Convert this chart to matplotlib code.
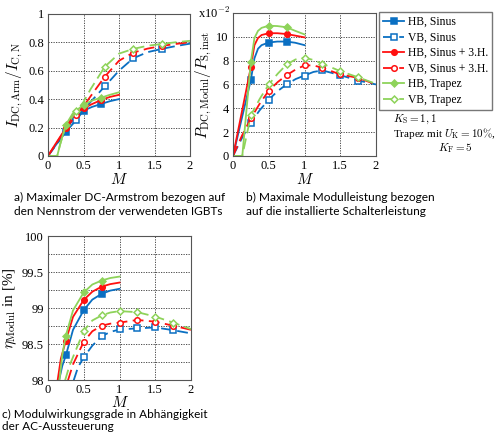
# Recreate: three panels (DC-Armstrom, Modulleistung, Wirkungsgrad) over M
import numpy as np
import matplotlib
matplotlib.use("Agg")
import matplotlib.pyplot as plt
from matplotlib.ticker import MultipleLocator

plt.rcParams['font.family'] = ['Liberation Serif', 'DejaVu Serif']
plt.rcParams['mathtext.fontset'] = 'cm'

labels = ['HB, Sinus', 'VB, Sinus', 'HB, Sinus + 3.H.', 'VB, Sinus + 3.H.',
          'HB, Trapez', 'VB, Trapez']

# --- panel a: I_DC,Arm / I_C,N ---
m_a_hb = [0, 0.1, 0.25, 0.35, 0.5, 0.62, 0.75, 0.87, 1.0]
a_hb_sinus = [0, 0.07, 0.171, 0.26, 0.319, 0.345, 0.366, 0.385, 0.40]
a_hb_3h = [0, 0.08, 0.195, 0.285, 0.335, 0.365, 0.394, 0.415, 0.43]
m_a_hb_tr = [0, 0.13, 0.17, 0.25, 0.35, 0.5, 0.62, 0.75, 0.87, 1.0]
a_hb_trapez = [0, 0, 0.08, 0.218, 0.30, 0.36, 0.39, 0.41, 0.43, 0.448]
m_a_vb = [0, 0.25, 0.4, 0.5, 0.6, 0.8, 1.0, 1.2, 1.4, 1.6, 1.8, 2.0]
a_vb_sinus = [0, 0.17, 0.253, 0.32, 0.38, 0.49, 0.60, 0.687, 0.73, 0.753, 0.773, 0.79]
a_vb_3h = [0, 0.19, 0.29, 0.35, 0.42, 0.558, 0.67, 0.727, 0.755, 0.774, 0.788, 0.80]
m_a_vb_tr = [0, 0.13, 0.17, 0.25, 0.4, 0.5, 0.6, 0.8, 1.0, 1.2, 1.4, 1.6, 1.8, 2.0]
a_vb_trapez = [0, 0, 0.08, 0.21, 0.316, 0.38, 0.47, 0.628, 0.72, 0.753, 0.775, 0.788, 0.80, 0.81]
mk_a_hb = [0.25, 0.5, 0.75]
mk_a_vb = [0.4, 0.8, 1.2, 1.6]

# --- panel b: P_DC,Modul / P_S,inst  (x 1e-2) ---
m_b_hb = [0, 0.25, 0.3, 0.35, 0.4, 0.5, 0.62, 0.75, 0.87, 1.0]
b_hb_sinus = [0, 6.4, 8.2, 9.0, 9.3, 9.52, 9.6, 9.6, 9.5, 9.3]
b_hb_3h = [0, 7.46, 9.3, 9.9, 10.15, 10.3, 10.3, 10.23, 10.1, 9.95]
m_b_hb_tr = [0, 0.13, 0.25, 0.3, 0.35, 0.4, 0.5, 0.62, 0.75, 0.87, 1.0]
b_hb_trapez = [0, 0, 7.9, 9.9, 10.5, 10.75, 10.93, 10.9, 10.8, 10.5, 10.2]
m_b_vb = [0, 0.125, 0.25, 0.375, 0.5, 0.625, 0.75, 0.875, 1.0, 1.125, 1.25, 1.5, 1.75, 2.0]
b_vb_sinus = [0, 1.5, 2.8, 3.85, 4.72, 5.45, 6.0, 6.45, 6.75, 7.05, 7.18, 6.78, 6.33, 6.0]
b_vb_3h = [0, 1.7, 3.16, 4.4, 5.48, 6.2, 6.78, 7.25, 7.6, 7.6, 7.4, 6.84, 6.55, 6.0]
m_b_vb_tr = [0, 0.13, 0.25, 0.375, 0.5, 0.625, 0.75, 0.875, 1.0, 1.125, 1.25, 1.5, 1.75, 2.0]
b_vb_trapez = [0, 0, 3.42, 4.8, 6.0, 6.9, 7.68, 8.1, 8.25, 8.05, 7.74, 7.12, 6.6, 6.05]
mk_b_hb = [0.25, 0.5, 0.75]
mk_b_vb = [0.25, 0.5, 0.75, 1.0, 1.25, 1.5, 1.75]

# --- panel c: eta_Modul in % ---
m_c_hb_sinus = [0.155, 0.2, 0.25, 0.35, 0.5, 0.62, 0.75, 0.87, 1.0]
c_hb_sinus = [98.0, 98.2, 98.345, 98.7, 98.974, 99.12, 99.2, 99.245, 99.27]
m_c_hb_3h = [0.135, 0.18, 0.25, 0.35, 0.5, 0.62, 0.75, 0.87, 1.0]
c_hb_3h = [98.0, 98.3, 98.55, 98.88, 99.116, 99.23, 99.3, 99.335, 99.357]
m_c_hb_tr = [0.16, 0.2, 0.25, 0.35, 0.5, 0.62, 0.75, 0.87, 1.0]
c_hb_trapez = [98.0, 98.35, 98.62, 98.97, 99.22, 99.33, 99.385, 99.42, 99.44]
m_c_vb_sinus = [0.36, 0.42, 0.5, 0.62, 0.75, 0.87, 1.0, 1.25, 1.5, 1.75, 2.0]
c_vb_sinus = [98.0, 98.18, 98.317, 98.48, 98.61, 98.67, 98.705, 98.72, 98.733, 98.695, 98.65]
m_c_vb_3h = [0.28, 0.35, 0.5, 0.62, 0.75, 0.87, 1.0, 1.25, 1.5, 1.75, 2.0]
c_vb_3h = [98.0, 98.22, 98.534, 98.68, 98.757, 98.785, 98.80, 98.837, 98.813, 98.757, 98.70]
m_c_vb_tr = [0.24, 0.3, 0.5, 0.62, 0.75, 0.87, 1.0, 1.25, 1.5, 1.75, 2.0]
c_vb_trapez = [98.0, 98.2, 98.686, 98.83, 98.90, 98.94, 98.96, 98.945, 98.884, 98.80, 98.71]
mk_c_hb = [0.25, 0.5, 0.75]
mk_c_vb = [0.5, 0.75, 1.0, 1.25, 1.5, 1.75]

BLUE = '#0a6fc2'
RED = '#ff1010'
GREEN = '#8ed35a'
styles = [
    dict(color=BLUE, marker='s', ls='-', mfc=BLUE),
    dict(color=BLUE, marker='s', ls=(0, (6, 3)), mfc='white'),
    dict(color=RED, marker='o', ls='-', mfc=RED),
    dict(color=RED, marker='o', ls=(0, (6, 3)), mfc='white'),
    dict(color=GREEN, marker='D', ls='-', mfc=GREEN),
    dict(color=GREEN, marker='D', ls=(0, (6, 3)), mfc='white'),
]


def draw(ax, m, y, style, marks, label):
    m = np.asarray(m)
    idx = [int(np.argmin(np.abs(m - p))) for p in marks]
    ms = 4 if style['marker'] != 'D' else 3.5
    return ax.plot(m, y, lw=1.3, ms=ms, mew=1.1, markevery=idx,
                   label=label, **style)[0]


def style_axes(ax, xpad=0):
    ax.set_xlim(0, 2)
    ax.set_xticks([0, 0.5, 1, 1.5, 2])
    ax.set_xticklabels(['0', '0.5', '1', '1.5', '2'])
    ax.grid(True, which='both', ls=(0, (1.5, 1.5)), color='#333333', lw=0.6)
    ax.tick_params(which='both', direction='in', length=0, labelsize=9, pad=3)
    for s in ax.spines.values():
        s.set_color('#555555')
        s.set_linewidth(0.8)
    ax.set_xlabel('$M$', fontsize=11, labelpad=xpad)


fig = plt.figure(figsize=(5, 4.32), dpi=100)

# panel a
ax1 = fig.add_axes([0.096, 0.639, 0.284, 0.329])
data_a = [(m_a_hb, a_hb_sinus, mk_a_hb), (m_a_vb, a_vb_sinus, mk_a_vb),
          (m_a_hb, a_hb_3h, mk_a_hb), (m_a_vb, a_vb_3h, mk_a_vb),
          (m_a_hb_tr, a_hb_trapez, mk_a_hb), (m_a_vb_tr, a_vb_trapez, mk_a_vb)]
for (m, y, mk), st, lb in zip(data_a, styles, labels):
    draw(ax1, m, y, st, mk, lb)
style_axes(ax1)
ax1.set_ylim(0, 1)
ax1.set_yticks([0, 0.2, 0.4, 0.6, 0.8, 1])
ax1.set_yticklabels(['0', '0.2', '0.4', '0.6', '0.8', '1'])
ax1.set_ylabel(r'$I_{\mathrm{DC,Arm}}/I_{\mathrm{C,N}}$', fontsize=11, labelpad=2)

# panel b
ax2 = fig.add_axes([0.466, 0.639, 0.286, 0.331])
data_b = [(m_b_hb, b_hb_sinus, mk_b_hb), (m_b_vb, b_vb_sinus, mk_b_vb),
          (m_b_hb, b_hb_3h, mk_b_hb), (m_b_vb, b_vb_3h, mk_b_vb),
          (m_b_hb_tr, b_hb_trapez, mk_b_hb), (m_b_vb_tr, b_vb_trapez, mk_b_vb)]
handles = []
for (m, y, mk), st, lb in zip(data_b, styles, labels):
    handles.append(draw(ax2, m, y, st, mk, lb))
style_axes(ax2)
ax2.set_ylim(0, 12)
ax2.set_yticks([0, 2, 4, 6, 8, 10])
ax2.set_ylabel(r'$P_{\mathrm{DC,Modul}}/P_{\mathrm{S,inst}}$', fontsize=11, labelpad=2)
ax2.text(-0.02, 1.0, r'x10$^{-2}$', transform=ax2.transAxes, ha='right',
         va='center', fontsize=9)

# panel c
ax3 = fig.add_axes([0.096, 0.120, 0.286, 0.333])
data_c = [(m_c_hb_sinus, c_hb_sinus, mk_c_hb), (m_c_vb_sinus, c_vb_sinus, mk_c_vb),
          (m_c_hb_3h, c_hb_3h, mk_c_hb), (m_c_vb_3h, c_vb_3h, mk_c_vb),
          (m_c_hb_tr, c_hb_trapez, mk_c_hb), (m_c_vb_tr, c_vb_trapez, mk_c_vb)]
for (m, y, mk), st, lb in zip(data_c, styles, labels):
    draw(ax3, m, y, st, mk, lb)
style_axes(ax3, xpad=-1.0)
ax3.set_ylim(98, 100)
ax3.set_yticks([98, 98.5, 99, 99.5, 100])
ax3.set_yticklabels(['98', '98.5', '99', '99.5', '100'])
ax3.yaxis.set_minor_locator(MultipleLocator(0.25))
ax3.set_ylabel(r'$\eta_{\mathrm{Modul}}$ in [%]', fontsize=11, labelpad=2)

# legend + parameter note
fig.legend(handles=handles, loc='upper left', bbox_to_anchor=(0.758, 0.972),
           fontsize=8.4, handlelength=1.8, handletextpad=0.3, borderpad=0.35,
           labelspacing=0.3, frameon=True, fancybox=False,
           edgecolor='#555555', borderaxespad=0)
fig.text(0.786, 0.723, r'$K_{\mathrm{S}} = 1,1$', fontsize=8, va='center')
fig.text(0.786, 0.690, r'Trapez mit $U_{\mathrm{K}} = 10\%$,', fontsize=8, va='center')
fig.text(0.876, 0.657, r'$K_{\mathrm{F}} = 5$', fontsize=8, va='center')

# captions
cap = dict(fontsize=8.6, family='Lato', va='top', linespacing=1.25)
fig.text(0.028, 0.555, 'a) Maximaler DC-Armstrom bezogen auf\n'
         'den Nennstrom der verwendeten IGBTs', **cap)
fig.text(0.492, 0.555, 'b) Maximale Modulleistung bezogen\n'
         'auf die installierte Schalterleistung', **cap)
fig.text(0.004, 0.053, 'c) Modulwirkungsgrade in Abhängigkeit\n'
         'der AC-Aussteuerung', fontsize=8.5, family='Lato', va='top',
         linespacing=1.1)

fig.savefig('out.png', dpi=100)
